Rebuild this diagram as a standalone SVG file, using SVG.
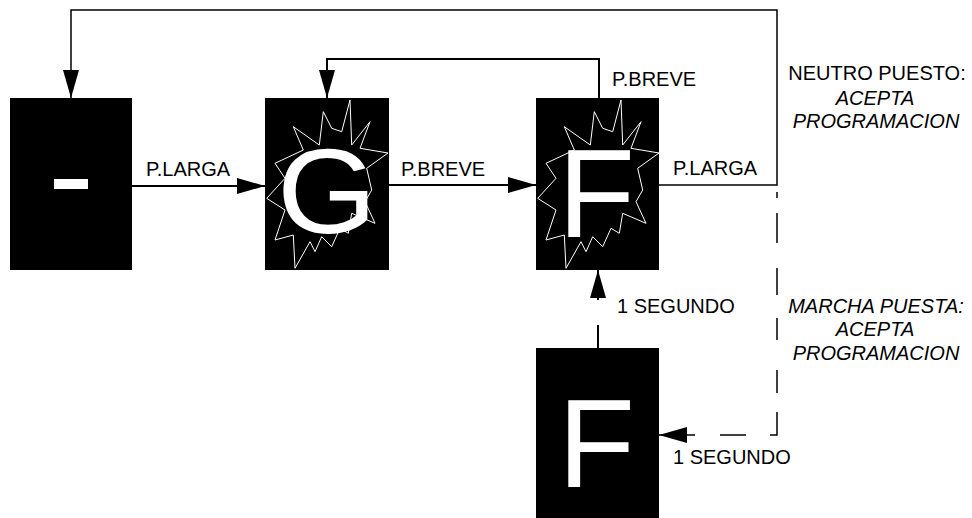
<svg xmlns="http://www.w3.org/2000/svg" xmlns:xlink="http://www.w3.org/1999/xlink" width="972" height="518" viewBox="0 0 972 518">
<style>
.box{fill:#000}
.burst{fill:none;stroke:#fff;stroke-width:1}
.big{font-family:"Liberation Sans",Arial,sans-serif;fill:#fff}
.con{fill:none;stroke:#000;stroke-width:2}
.thin{fill:none;stroke:#000;stroke-width:1.5}
.lbl{font-family:"Liberation Sans",Arial,sans-serif;font-size:20px;fill:#000}
.it{font-style:italic}
</style>
<defs>
<marker id="arr" markerUnits="userSpaceOnUse" viewBox="0 0 28 16" markerWidth="28" markerHeight="16" refX="28" refY="8" orient="auto">
<path d="M0,0 L28,8 L0,16 Z" fill="#000"/>
</marker>
<polygon id="burst" class="burst" points="85,2 76.7,33.7 66.7,30.3 58.3,13.7 54.3,47 28.3,28.7 38.3,52 10,65.3 20,80.3 1.7,100.3 20,112 10,142 28.3,137 30,170.3 45,143.7 50,153.7 56.7,138.7 66.7,148.7 75,130.3 83.3,135.3 86.7,115.3 110,125.3 100,103.7 106.7,92 101.7,70.3 123,55 95,50.3 105,23.7 86.7,47"/>
</defs>

<g id="connectors">
<path class="con" d="M132,186 L265,186" marker-end="url(#arr)"/>
<path class="con" d="M389,185 L536,185" marker-end="url(#arr)"/>
<path class="thin" d="M659,185 L777,185 L777,10 L71,10 L71,98" marker-end="url(#arr)"/>
<path class="con" d="M599,98 L599,59 L327,59 L327,98" marker-end="url(#arr)"/>
<path class="con" d="M598,348 L598,325 M598,300 L598,270" marker-end="url(#arr)"/>
<path class="thin" d="M777,192 L777,198 M777,213 L777,243 M777,268 L777,295 M777,318 L777,340 M777,370 L777,393 M777,412 L777,435 L770,435 M746,435 L720,435"/>
<path class="thin" d="M695,435 L659,435" marker-end="url(#arr)"/>
</g>

<g id="node-dash">
<rect class="box" x="10" y="98" width="122" height="172"/>
<rect x="54" y="179" width="34" height="10" fill="#fff"/>
</g>

<g id="node-G">
<rect class="box" x="265" y="98" width="124" height="172"/>
<use xlink:href="#burst" x="265" y="98"/>
<text class="big" font-size="120" text-anchor="middle" transform="translate(327,233) scale(1.07,1)">G</text>
</g>

<g id="node-F">
<rect class="box" x="536" y="98" width="123" height="172"/>
<use xlink:href="#burst" x="536" y="98"/>
<text class="big" font-size="126" x="558" y="237">F</text>
</g>

<g id="node-F2">
<rect class="box" x="536" y="348" width="123" height="170"/>
<text class="big" font-size="126" x="558" y="487">F</text>
</g>

<g id="labels">
<text class="lbl" x="146" y="176">P.LARGA</text>
<text class="lbl" x="401" y="176">P.BREVE</text>
<text class="lbl" x="612" y="86">P.BREVE</text>
<text class="lbl" x="673" y="175">P.LARGA</text>
<text class="lbl" x="877" y="80" text-anchor="middle">NEUTRO PUESTO:</text>
<text class="lbl it" x="875" y="105" text-anchor="middle">ACEPTA</text>
<text class="lbl it" x="876" y="128" text-anchor="middle">PROGRAMACION</text>
<text class="lbl it" x="876" y="313" text-anchor="middle">MARCHA PUESTA:</text>
<text class="lbl it" x="875" y="336" text-anchor="middle">ACEPTA</text>
<text class="lbl it" x="876" y="360" text-anchor="middle">PROGRAMACION</text>
<text class="lbl" x="617" y="313">1 SEGUNDO</text>
<text class="lbl" x="673" y="464">1 SEGUNDO</text>
</g>
</svg>
